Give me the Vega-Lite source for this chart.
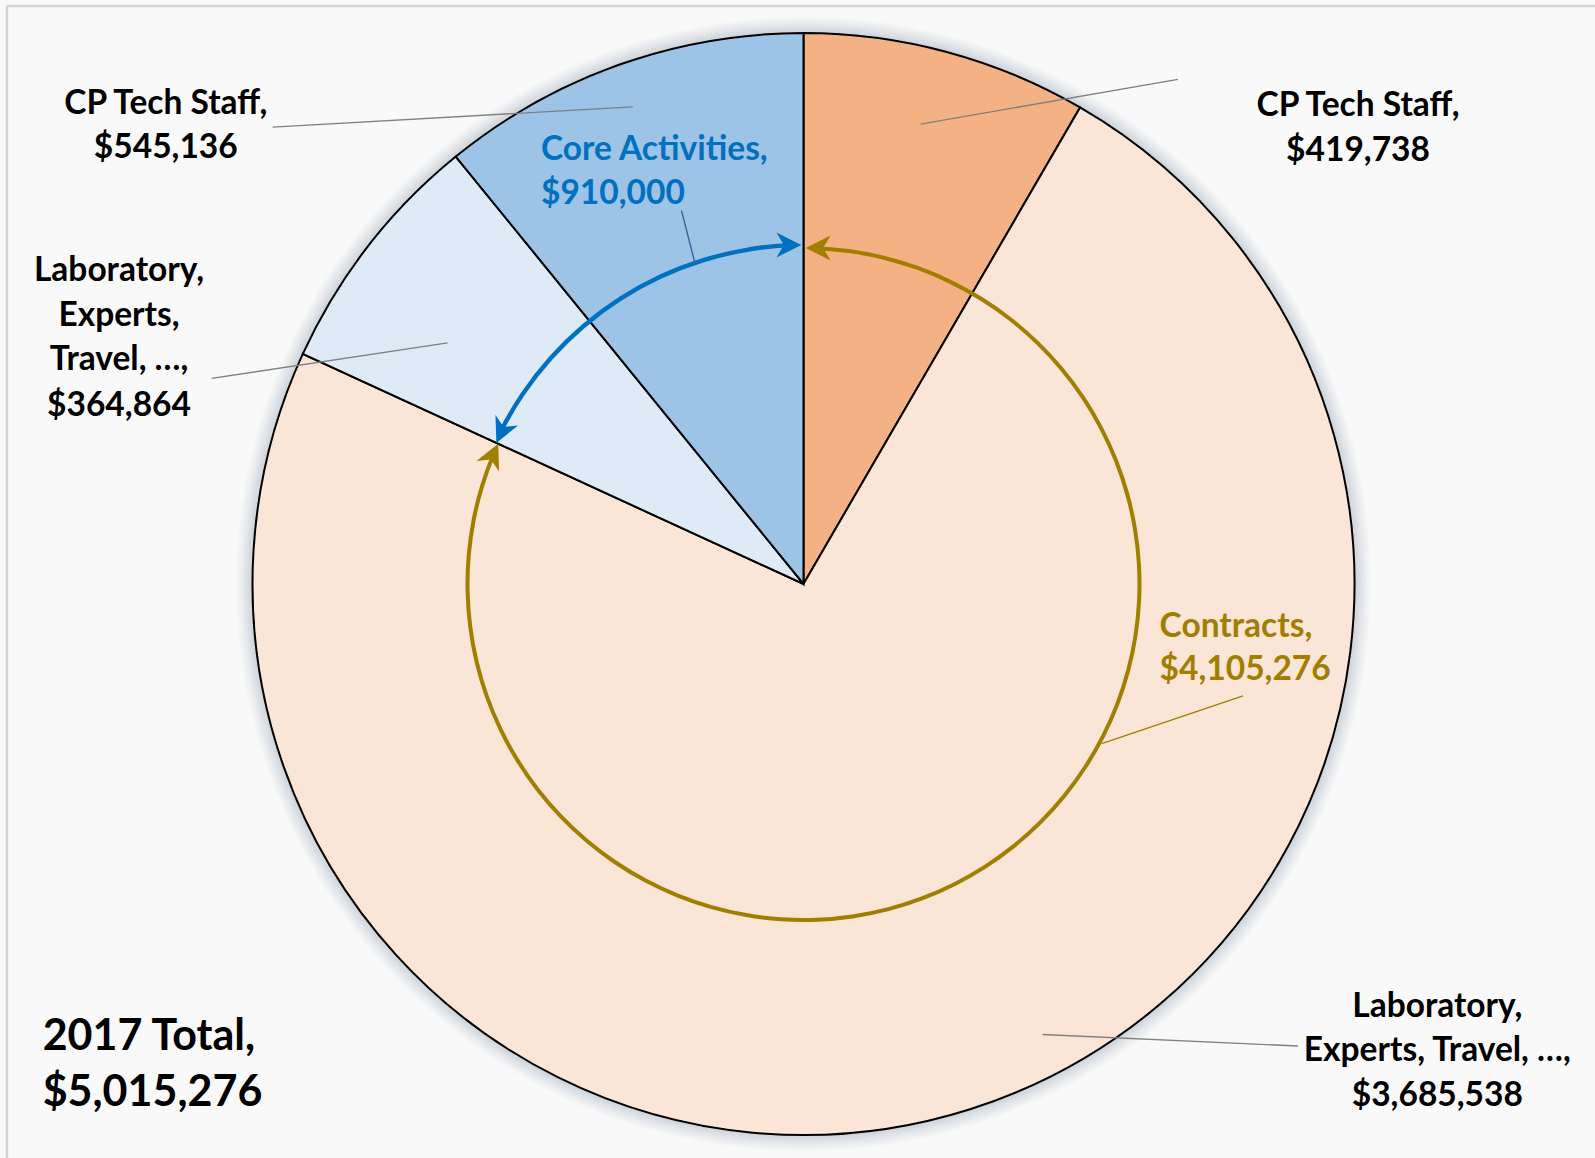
{
  "$schema": "https://vega.github.io/schema/vega-lite/v6.json",
  "width": 1583,
  "height": 1148,
  "autosize": {"type": "none"},
  "padding": {"left": 12, "top": 10, "right": 0, "bottom": 0},
  "background": "#F9F9F9",
  "config": {"view": {"stroke": null}},
  "datasets": {
    "whole": [{"total": 5015276}],
    "slices": [
      {"idx": 1, "slice": "Contracts: CP Tech Staff", "amount": 419738},
      {"idx": 2, "slice": "Contracts: Laboratory, Experts, Travel, …", "amount": 3685538},
      {"idx": 3, "slice": "Core Activities: Laboratory, Experts, Travel, …", "amount": 364864},
      {"idx": 4, "slice": "Core Activities: CP Tech Staff", "amount": 545136}
    ],
    "arcs": [
      {"group": "core", "from": 4128000, "to": 4992000},
      {"group": "contracts", "from": 23000, "to": 4082000}
    ],
    "arrows": [
      {"group": "core", "X": -0.004, "Y": 0.6152, "dir": 90},
      {"group": "contracts", "X": 0.004, "Y": 0.6098, "dir": 270},
      {"group": "core", "X": -0.5574, "Y": 0.2561, "dir": 204.7},
      {"group": "contracts", "X": -0.5541, "Y": 0.2546, "dir": 24.7}
    ],
    "leaders": [
      {"group": "plain", "X1": -0.9635, "Y1": 0.829, "X2": -0.31, "Y2": 0.8661},
      {"group": "plain", "X1": 0.2125, "Y1": 0.8347, "X2": 0.6795, "Y2": 0.916},
      {"group": "plain", "X1": -1.0742, "Y1": 0.3731, "X2": -0.6459, "Y2": 0.4377},
      {"group": "core", "X1": -0.2214, "Y1": 0.6777, "X2": -0.1973, "Y2": 0.5837},
      {"group": "contracts", "X1": 0.7976, "Y1": -0.2029, "X2": 0.5412, "Y2": -0.2897},
      {"group": "plain", "X1": 0.4341, "Y1": -0.8176, "X2": 0.8975, "Y2": -0.8385},
      {"group": "frame", "X1": -1.4456, "Y1": 1.049, "X2": 1.4365, "Y2": 1.049},
      {"group": "frame", "X1": -1.4456, "Y1": 1.049, "X2": -1.4456, "Y2": -1.0417}
    ],
    "labels": [
      {"kind": "center", "group": "plain", "X": -1.1574, "Y": 0.8757, "line": "CP Tech Staff,"},
      {"kind": "center", "group": "plain", "X": -1.1574, "Y": 0.7958, "line": "$545,136"},
      {"kind": "left", "group": "core", "X": -0.4764, "Y": 0.7922, "line": "Core Activities,"},
      {"kind": "left", "group": "core", "X": -0.4764, "Y": 0.7129, "line": "$910,000"},
      {"kind": "center", "group": "plain", "X": 1.0064, "Y": 0.8715, "line": "CP Tech Staff,"},
      {"kind": "center", "group": "plain", "X": 1.0064, "Y": 0.7904, "line": "$419,738"},
      {"kind": "center", "group": "plain", "X": -1.2423, "Y": 0.5726, "line": "Laboratory,"},
      {"kind": "center", "group": "plain", "X": -1.2423, "Y": 0.4913, "line": "Experts,"},
      {"kind": "center", "group": "plain", "X": -1.2423, "Y": 0.4102, "line": "Travel, …,"},
      {"kind": "center", "group": "plain", "X": -1.2423, "Y": 0.327, "line": "$364,864"},
      {"kind": "left", "group": "contracts", "X": 0.6463, "Y": -0.0717, "line": "Contracts,"},
      {"kind": "left", "group": "contracts", "X": 0.6463, "Y": -0.1512, "line": "$4,105,276"},
      {"kind": "center", "group": "plain", "X": 1.1503, "Y": -0.7623, "line": "Laboratory,"},
      {"kind": "center", "group": "plain", "X": 1.1503, "Y": -0.8436, "line": "Experts, Travel, …,"},
      {"kind": "center", "group": "plain", "X": 1.1503, "Y": -0.9247, "line": "$3,685,538"},
      {"kind": "total", "group": "plain", "X": -1.3808, "Y": -0.8158, "line": "2017 Total,"},
      {"kind": "total", "group": "plain", "X": -1.3808, "Y": -0.9172, "line": "$5,015,276"}
    ]
  },
  "layer": [
    {
      "data": {"name": "whole"},
      "mark": {
        "type": "arc", "outerRadius": 568,
        "color": {"gradient": "radial", "x1": 0.5, "y1": 0.5, "x2": 0.5, "y2": 0.5, "r1": 0, "r2": 0.5,
          "stops": [{"offset": 0, "color": "#C9CFD6"}, {"offset": 0.968, "color": "#C9CFD6"}, {"offset": 0.985, "color": "#E4E7EB"}, {"offset": 1, "color": "#F9F9F9"}]}
      },
      "encoding": {
        "theta": {"field": "total", "type": "quantitative", "stack": true, "scale": {"domain": [0, 5015276]}}
      }
    },
    {
      "data": {"name": "slices"},
      "mark": {"type": "arc", "outerRadius": 551, "stroke": "#000000", "strokeWidth": 2},
      "encoding": {
        "theta": {"field": "amount", "type": "quantitative", "stack": true, "scale": {"domain": [0, 5015276]}},
        "order": {"field": "idx", "type": "quantitative"},
        "color": {
          "field": "slice", "type": "nominal",
          "scale": {
            "domain": ["Contracts: CP Tech Staff", "Contracts: Laboratory, Experts, Travel, …", "Core Activities: Laboratory, Experts, Travel, …", "Core Activities: CP Tech Staff"],
            "range": ["#F4B183", "#FBE5D6", "#DEEBF7", "#9DC3E6"]
          },
          "legend": null
        }
      }
    },
    {
      "data": {"name": "arcs"},
      "transform": [{"filter": "datum.group === 'core'"}],
      "mark": {"type": "arc", "innerRadius": 336.8, "outerRadius": 341.2, "color": "#0070C0"},
      "encoding": {
        "theta": {"field": "from", "type": "quantitative", "stack": null, "scale": {"domain": [0, 5015276]}},
        "theta2": {"field": "to"}
      }
    },
    {
      "data": {"name": "arcs"},
      "transform": [{"filter": "datum.group === 'contracts'"}],
      "mark": {"type": "arc", "innerRadius": 334, "outerRadius": 338, "color": "#A07E00"},
      "encoding": {
        "theta": {"field": "from", "type": "quantitative", "stack": null, "scale": {"domain": [0, 5015276]}},
        "theta2": {"field": "to"}
      }
    },
    {
      "data": {"name": "arrows"},
      "mark": {"type": "point", "shape": "M0,0L0.75,1.5L0,1.05L-0.75,1.5Z", "filled": true, "size": 1100, "opacity": 1, "strokeWidth": 0},
      "encoding": {
        "x": {"field": "X", "type": "quantitative", "scale": {"domain": [-1.43648, 1.43648], "nice": false, "zero": false}, "axis": null},
        "y": {"field": "Y", "type": "quantitative", "scale": {"domain": [-1.04174, 1.04174], "nice": false, "zero": false}, "axis": null},
        "angle": {"field": "dir", "type": "quantitative", "scale": {"domain": [0, 360], "range": [0, 360]}},
        "fill": {"field": "group", "type": "nominal", "scale": {"domain": ["core", "contracts", "plain"], "range": ["#0070C0", "#A07E00", "#000000"]}, "legend": null}
      }
    },
    {
      "data": {"name": "leaders"},
      "transform": [{"filter": "datum.group !== 'frame'"}],
      "mark": {"type": "rule", "strokeWidth": 1.3},
      "encoding": {
        "x": {"field": "X1", "type": "quantitative", "scale": {"domain": [-1.43648, 1.43648], "nice": false, "zero": false}, "axis": null},
        "y": {"field": "Y1", "type": "quantitative", "scale": {"domain": [-1.04174, 1.04174], "nice": false, "zero": false}, "axis": null},
        "x2": {"field": "X2"},
        "y2": {"field": "Y2"},
        "stroke": {"field": "group", "type": "nominal", "scale": {"domain": ["core", "contracts", "plain", "frame"], "range": ["#2F5F95", "#A07E00", "#808080", "#D2D2D2"]}, "legend": null}
      }
    },
    {
      "data": {"name": "leaders"},
      "transform": [{"filter": "datum.group === 'frame'"}],
      "mark": {"type": "rule", "strokeWidth": 2.5},
      "encoding": {
        "x": {"field": "X1", "type": "quantitative", "scale": {"domain": [-1.43648, 1.43648], "nice": false, "zero": false}, "axis": null},
        "y": {"field": "Y1", "type": "quantitative", "scale": {"domain": [-1.04174, 1.04174], "nice": false, "zero": false}, "axis": null},
        "x2": {"field": "X2"},
        "y2": {"field": "Y2"},
        "stroke": {"field": "group", "type": "nominal", "scale": {"domain": ["core", "contracts", "plain", "frame"], "range": ["#2F5F95", "#A07E00", "#808080", "#D2D2D2"]}, "legend": null}
      }
    },
    {
      "data": {"name": "labels"},
      "transform": [{"filter": "datum.kind === 'center'"}],
      "mark": {"type": "text", "font": "Lato", "fontWeight": "bold", "fontSize": 33.5, "align": "center", "baseline": "middle", "dy": 2.5},
      "encoding": {
        "x": {"field": "X", "type": "quantitative", "scale": {"domain": [-1.43648, 1.43648], "nice": false, "zero": false}, "axis": null},
        "y": {"field": "Y", "type": "quantitative", "scale": {"domain": [-1.04174, 1.04174], "nice": false, "zero": false}, "axis": null},
        "text": {"field": "line", "type": "nominal"},
        "fill": {"field": "group", "type": "nominal", "scale": {"domain": ["core", "contracts", "plain"], "range": ["#0070C0", "#A07E00", "#000000"]}, "legend": null}
      }
    },
    {
      "data": {"name": "labels"},
      "transform": [{"filter": "datum.kind === 'left'"}],
      "mark": {"type": "text", "font": "Lato", "fontWeight": "bold", "fontSize": 33.5, "align": "left", "baseline": "middle", "dy": 3},
      "encoding": {
        "x": {"field": "X", "type": "quantitative", "scale": {"domain": [-1.43648, 1.43648], "nice": false, "zero": false}, "axis": null},
        "y": {"field": "Y", "type": "quantitative", "scale": {"domain": [-1.04174, 1.04174], "nice": false, "zero": false}, "axis": null},
        "text": {"field": "line", "type": "nominal"},
        "fill": {"field": "group", "type": "nominal", "scale": {"domain": ["core", "contracts", "plain"], "range": ["#0070C0", "#A07E00", "#000000"]}, "legend": null}
      }
    },
    {
      "data": {"name": "labels"},
      "transform": [{"filter": "datum.kind === 'total'"}],
      "mark": {"type": "text", "font": "Lato", "fontWeight": "bold", "fontSize": 43, "align": "left", "baseline": "middle", "dy": 3.5},
      "encoding": {
        "x": {"field": "X", "type": "quantitative", "scale": {"domain": [-1.43648, 1.43648], "nice": false, "zero": false}, "axis": null},
        "y": {"field": "Y", "type": "quantitative", "scale": {"domain": [-1.04174, 1.04174], "nice": false, "zero": false}, "axis": null},
        "text": {"field": "line", "type": "nominal"},
        "fill": {"field": "group", "type": "nominal", "scale": {"domain": ["core", "contracts", "plain"], "range": ["#0070C0", "#A07E00", "#000000"]}, "legend": null}
      }
    }
  ]
}
